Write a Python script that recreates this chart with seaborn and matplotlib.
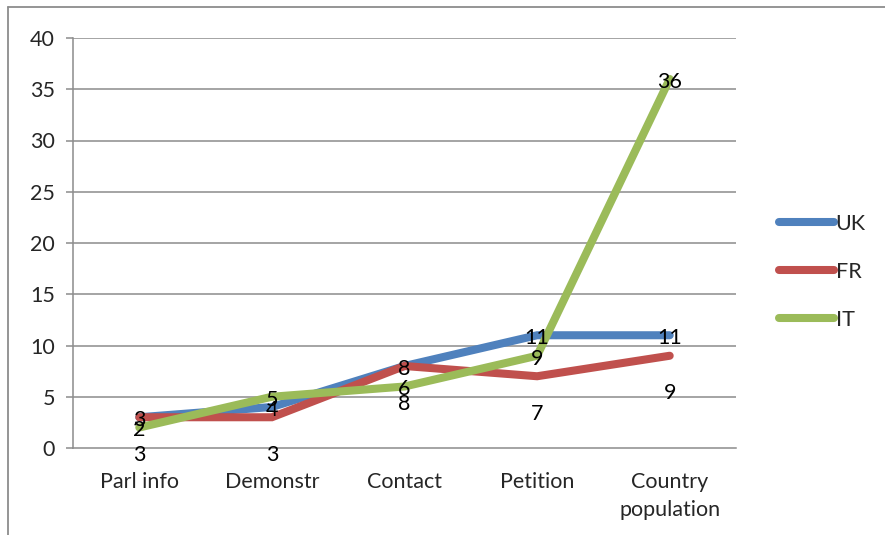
import matplotlib
matplotlib.use("Agg")
import matplotlib.pyplot as plt
from matplotlib.lines import Line2D
import numpy as np
import pandas as pd
import seaborn as sns

# Survey categories and per-country values
categories = ["Parl info", "Demonstr", "Contact", "Petition", "Country\npopulation"]
uk_values = [3, 4, 8, 11, 11]
fr_values = [3, 3, 8, 7, 9]
it_values = [2, 5, 6, 9, 36]
series_names = ["UK", "FR", "IT"]
series_colors = ["#4F81BD", "#C0504D", "#9BBB59"]
y_ticks = [0, 5, 10, 15, 20, 25, 30, 35, 40]

rows = []
for name, vals in zip(series_names, [uk_values, fr_values, it_values]):
    for i, v in enumerate(vals):
        rows.append({"pos": i, "value": v, "country": name})
df = pd.DataFrame(rows)

sns.set_theme(style="white")
plt.rcParams["font.family"] = ["Lato", "DejaVu Sans"]
FS = 15.5

fig = plt.figure(figsize=(8.85, 5.35), dpi=100)
ax = fig.add_axes([73 / 885, 1 - 448 / 535, (736 - 73) / 885, (448 - 38) / 535])

grid_col = "#8C8C8C"
for t in y_ticks[1:]:
    ax.axhline(t, color=grid_col, lw=1.1, zorder=0)

sns.lineplot(data=df, x="pos", y="value", hue="country", hue_order=series_names,
             palette=series_colors, linewidth=5.8, ax=ax, legend=False,
             solid_capstyle="round", solid_joinstyle="miter", sort=False)

# Value labels: FR labels sit below their points, others are centred on them
offsets = {"UK": -2, "FR": -27, "IT": -2}
for name, vals in zip(series_names, [uk_values, fr_values, it_values]):
    for i, v in enumerate(vals):
        ax.annotate(str(v), (i, v), xytext=(0, offsets[name]), textcoords="offset points",
                    ha="center", va="center", fontsize=FS, color="black", zorder=5)

ax.set_xlim(-0.5, 4.5)
ax.set_ylim(0, 40)
ax.set_yticks(y_ticks)
ax.set_yticklabels([str(t) for t in y_ticks], fontsize=FS)
ax.set_xticks(range(len(categories)))
ax.set_xticklabels(categories, fontsize=FS, linespacing=1.5)
ax.set_xticks(np.arange(-0.5, 5.0, 1.0), minor=True)
ax.tick_params(axis="x", which="major", length=0, pad=17)
ax.tick_params(axis="x", which="minor", length=5, width=1.1, color=grid_col, direction="out")
ax.tick_params(axis="y", length=5, width=1.1, color=grid_col, direction="out", pad=8, left=True)
ax.set_xlabel("")
ax.set_ylabel("")
for s in ["top", "right"]:
    ax.spines[s].set_visible(False)
for s in ["left", "bottom"]:
    ax.spines[s].set_color(grid_col)
    ax.spines[s].set_linewidth(1.1)

handles = [Line2D([0], [0], color=c, lw=5.8, solid_capstyle="round") for c in series_colors]
fig.legend(handles, series_names, loc="center left", bbox_to_anchor=(770 / 885, 1 - 272 / 535),
           frameon=False, fontsize=FS, handlelength=2.55, handletextpad=0.1, labelspacing=1.3,
           borderaxespad=0)

# Outer chart frame (left and top edges)
fig.add_artist(Line2D([7.5 / 885, 7.5 / 885], [0, 1 - 6.5 / 535], color=grid_col, lw=1.3,
                      transform=fig.transFigure))
fig.add_artist(Line2D([7.5 / 885, 1], [1 - 6.5 / 535, 1 - 6.5 / 535], color=grid_col, lw=1.3,
                      transform=fig.transFigure))

fig.savefig("out.png", dpi=100)
